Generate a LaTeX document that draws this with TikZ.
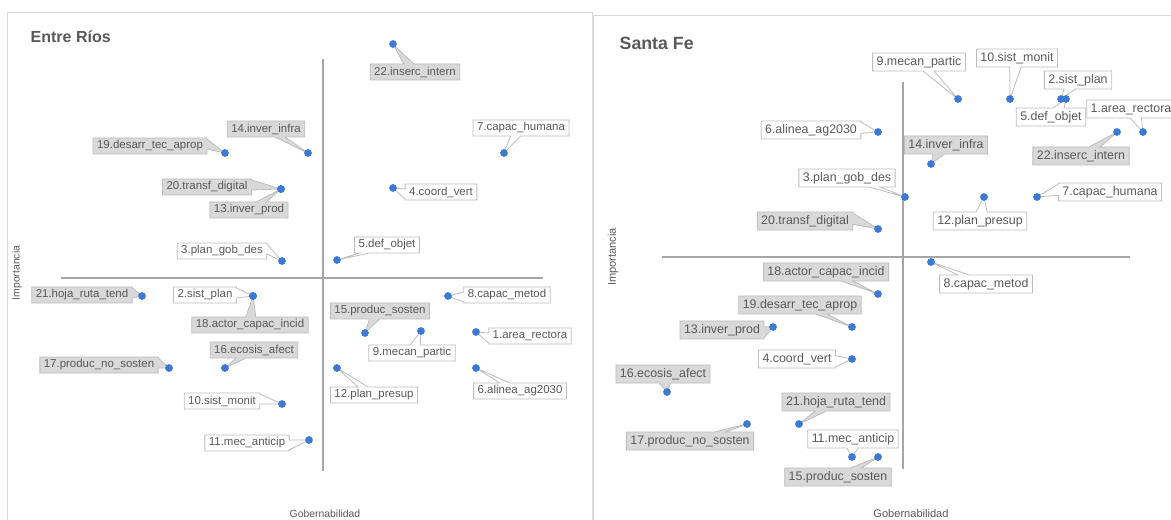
\documentclass[tikz,border=0pt]{standalone}
\usepackage{fontspec}
\setmainfont{Liberation Sans}
\usetikzlibrary{shapes.callouts}
\pgfdeclarelayer{back}
\pgfsetlayers{back,main}
\definecolor{dotblue}{HTML}{3C78D8}
\definecolor{boxgray}{HTML}{D9D9D9}
\definecolor{linegray}{HTML}{BDBDBD}
\definecolor{axisgray}{HTML}{A6A6A6}
\definecolor{framegray}{HTML}{D9D9D9}
\definecolor{txtgray}{HTML}{595959}
\begin{document}
\begin{tikzpicture}[x=0.75pt,y=-0.75pt,
    dot/.style={circle,fill=dotblue,inner sep=0pt,minimum size=5.8pt},
    lab/.style={rectangle callout,callout pointer width=7.5pt,draw=linegray,line width=0.6pt,
        text=txtgray,inner xsep=3pt,inner ysep=0pt,minimum height=12pt,font=\fontsize{8.6}{9}\selectfont},
    wlab/.style={lab,fill=white},
    glab/.style={lab,fill=boxgray},
    axis/.style={draw=axisgray,line width=1.1pt},
    frame/.style={draw=framegray,line width=0.7pt},
    ttl/.style={anchor=west,text=txtgray,font=\bfseries\fontsize{12}{14}\selectfont},
    axlab/.style={text=txtgray,font=\fontsize{7.8}{9}\selectfont}]
\useasboundingbox (0,0) rectangle (1171,520);
\begin{pgfonlayer}{back}
\fill[white] (0,0) rectangle (1171,520);
\draw[frame] (7,530) -- (7,12) -- (592,12) -- (592,530);
\draw[frame] (593,530) -- (593,15) -- (1180,15);
\draw[axis] (323,59) -- (323,471);
\draw[axis] (61,278) -- (543,278);
\draw[axis] (903,82) -- (903,469);
\draw[axis] (662,257) -- (1130,257);
\end{pgfonlayer}
% Entre Rios
\node[ttl] (ttlA) at (26,37) {Entre Ríos};
\node[axlab,rotate=90] (impA) at (17,273) {Importancia};
\node[axlab] (gobA) at (325,514) {Gobernabilidad};
\foreach \n/\xp/\yp/\xl/\yl/\kind/\txt in {
    1/476/332/530/336/wlab/1.area\_rectora,
    2/253/296/205/295/wlab/2.sist\_plan,
    3/282/261/222/251/wlab/3.plan\_gob\_des,
    4/393/188/441/192/wlab/4.coord\_vert,
    5/337/260/387/245/wlab/5.def\_objet,
    6/476/368/520/391/wlab/6.alinea\_ag2030,
    7/504/153/521/128/wlab/7.capac\_humana,
    8/448/296/507/295/wlab/8.capac\_metod,
    9/421/331/412/353/wlab/9.mecan\_partic,
    10/282/404/222/401/wlab/10.sist\_monit,
    11/309/440/247/443/wlab/11.mec\_anticip,
    12/337/368/374/395/wlab/12.plan\_presup,
    13/281/189/249/210/glab/13.inver\_prod,
    14/308/153/266/129/glab/14.inver\_infra,
    15/365/333/380/311/glab/15.produc\_sosten,
    16/225/368/254/350/glab/16.ecosis\_afect,
    17/169/368/99/365/glab/17.produc\_no\_sosten,
    18/253/296/250/325/glab/18.actor\_capac\_incid,
    19/225/153/150/146/glab/19.desarr\_tec\_aprop,
    20/281/189/207/187/glab/20.transf\_digital,
    21/142/296/82/295/glab/21.hoja\_ruta\_tend,
    22/393/44/415/72/glab/22.inserc\_intern}{
  \node[dot] (A\n) at (\xp,\yp) {};
  \begin{pgfonlayer}{back}
  \node[\kind,callout absolute pointer={(A\n.center)}] (a\n) at (\xl,\yl) {\txt};
  \end{pgfonlayer}
}
% Santa Fe
\begin{scope}[lab/.append style={font=\fontsize{9.3}{10}\selectfont,minimum height=13.5pt,callout pointer width=8.5pt}]
\node[ttl,font=\bfseries\fontsize{13.3}{15}\selectfont] (ttlB) at (615,43) {Santa Fe};
\node[axlab,rotate=90,font=\fontsize{8.3}{9}\selectfont] (impB) at (613,257) {Importancia};
\node[axlab,font=\fontsize{8.3}{9}\selectfont] (gobB) at (911,514) {Gobernabilidad};
\foreach \n/\xp/\yp/\xl/\yl/\kind/\txt in {
    1/1143/132/1131/109/wlab/1.area\_rectora,
    2/1061/99/1078/80/wlab/2.sist\_plan,
    3/905/197/847/178/wlab/3.plan\_gob\_des,
    4/852/359/797/359/wlab/4.coord\_vert,
    5/1066/99/1051/117/wlab/5.def\_objet,
    6/878/132/811/130/wlab/6.alinea\_ag2030,
    7/1037/197/1110/192/wlab/7.capac\_humana,
    8/931/262/986/284/wlab/8.capac\_metod,
    9/958/99/919/62/wlab/9.mecan\_partic,
    10/1010/99/1017/58/wlab/10.sist\_monit,
    11/852/457/853/439/wlab/11.mec\_anticip,
    12/984/197/980/221/wlab/12.plan\_presup,
    13/773/327/722/330/glab/13.inver\_prod,
    14/931/164/946/145/glab/14.inver\_infra,
    15/878/457/838/477/glab/15.produc\_sosten,
    16/667/392/663/374/glab/16.ecosis\_afect,
    17/747/424/690/441/glab/17.produc\_no\_sosten,
    18/878/294/826/272/glab/18.actor\_capac\_incid,
    19/852/327/800/305/glab/19.desarr\_tec\_aprop,
    20/878/229/805/221/glab/20.transf\_digital,
    21/799/424/836/402/glab/21.hoja\_ruta\_tend,
    22/1117/132/1081/156/glab/22.inserc\_intern}{
  \node[dot] (B\n) at (\xp,\yp) {};
  \begin{pgfonlayer}{back}
  \node[\kind,callout absolute pointer={(B\n.center)}] (b\n) at (\xl,\yl) {\txt};
  \end{pgfonlayer}
}
\end{scope}
\end{tikzpicture}
\end{document}
